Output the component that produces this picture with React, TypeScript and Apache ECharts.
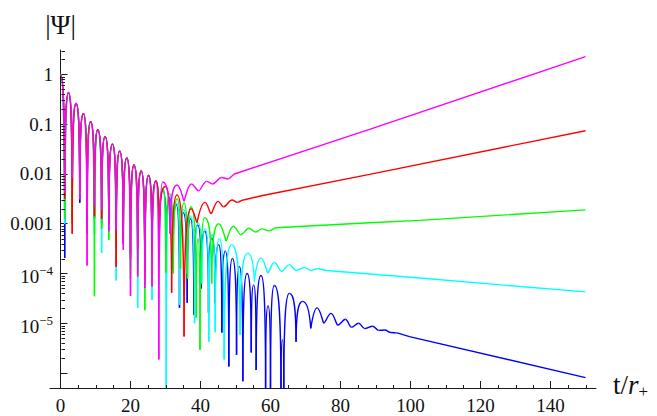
import React, { useEffect, useRef } from "react";
import * as echarts from "echarts";

// ---------- axis ranges & ticks ----------
const xMin = -3;
const xMax = 153;
const yMin = 5e-7;
const yMax = 3.1;
const xMajorTicks = [0, 20, 40, 60, 80, 100, 120, 140];
const xMinorTicks = [5, 10, 15, 25, 30, 35, 45, 50, 55, 65, 70, 75, 85, 90, 95, 105, 110, 115, 125, 130, 135, 145, 150];
const yMajorTicks = [1e-6, 1e-5, 1e-4, 1e-3, 1e-2, 1e-1, 1];
const yLabelValues = [1e-5, 1e-4, 1e-3, 1e-2, 1e-1, 1];
const yLabelTexts = ["{b|10}{s|\u22125}", "{b|10}{s|\u22124}", "0.001", "0.01", "0.1", "1"];
const yMinorTicks = [
  2e-6, 3e-6, 4e-6, 5e-6, 6e-6, 7e-6, 8e-6, 9e-6,
  2e-5, 3e-5, 4e-5, 5e-5, 6e-5, 7e-5, 8e-5, 9e-5,
  2e-4, 3e-4, 4e-4, 5e-4, 6e-4, 7e-4, 8e-4, 9e-4,
  0.002, 0.003, 0.004, 0.005, 0.006, 0.007, 0.008, 0.009,
  0.02, 0.03, 0.04, 0.05, 0.06, 0.07, 0.08, 0.09,
  0.2, 0.3, 0.4, 0.5, 0.6, 0.7, 0.8, 0.9,
  2, 3,
];

// ---------- data: common early ringing ----------
const startPoint = [0, 1];
const earlyPeakT = [2.3, 4.45, 6.55, 8.6, 10.65, 12.75, 14.85, 16.9, 18.95, 21.0, 23.05, 25.15, 27.25];
const earlyPeakV = [0.43, 0.26, 0.162, 0.112, 0.0776, 0.0562, 0.0398, 0.0288, 0.0209, 0.0151, 0.0115, 0.0093, 0.0072];
const earlyDipT = [1.2, 3.35, 5.5, 7.6, 9.7, 11.75, 13.8, 15.9, 17.95, 20.0, 22.05, 24.1, 26.15];

const blueEarlyDips = [2.04e-4, 1.26e-3, 2.63e-3, 2.0e-3, 1.26e-3, 1.0e-3, 1.0e-3, 5.0e-4, 3.98e-4, 2.51e-4, 1.58e-4, 1.2e-4, 1.58e-4];
const cyanEarlyDips = [1.0e-3, 1.58e-3, 3.98e-3, 1.26e-3, 6.3e-4, 2.57e-4, 7.9e-4, 7.2e-5, 5.0e-4, 1.26e-4, 2.04e-5, 6.3e-5, 2.95e-5];
const greenEarlyDips = [1.26e-3, 1.0e-3, 3.98e-3, 1.0e-3, 3.47e-5, 7.9e-4, 4.7e-4, 3.16e-4, 6.3e-4, 7.9e-5, 1.0e-4, 1.82e-5, 1.26e-4];
const redEarlyDips = [3.16e-3, 6.3e-4, 4.47e-3, 6.3e-4, 1.41e-3, 1.26e-3, 1.0e-3, 1.35e-4, 5.0e-4, 2.0e-4, 3.16e-4, 7.9e-5, 2.51e-4];
const magentaEarlyDips = [4.27e-3, 8.5e-3, 3.09e-3, 1.45e-4, 2.24e-3, 1.91e-3, 7.1e-4, 7.6e-4, 3.0e-4, 3.55e-5, 8.7e-5, 5.1e-5, 5.5e-5];

// ---------- data: later extrema (t, |Psi|) ----------
const magentaLate = [[28.1, 1.86e-6], [29.2, 6.9e-3], [31.3, 6.3e-4], [33.3, 6.0e-3], [35.3, 2.82e-3], [37.4, 6.3e-3], [39.5, 4.57e-3], [41.7, 7.1e-3], [43.5, 6.3e-3], [46.0, 8.5e-3], [48.0, 7.9e-3]];
const magentaTail = [[48.0, 7.9e-3], [49.7, 1.0e-2], [88.3, 7.9e-2], [150, 2.29]];

const redLate = [[28.2, 3.98e-4], [29.9, 5.6e-3], [31.75, 4.1e-5], [33.3, 3.8e-3], [35.3, 5.4e-6], [37.3, 2.0e-3], [39.0, 1.05e-3], [41.3, 2.69e-3], [43.0, 1.58e-3], [45.0, 2.82e-3], [46.6, 2.19e-3], [49.0, 3.0e-3], [50.5, 2.69e-3], [52.3, 3.0e-3]];
const redTail = [[52.3, 3.0e-3], [57.8, 3.7e-3], [88.3, 9.8e-3], [150, 7.4e-2]];

const greenLate = [[28.2, 3.16e-4], [29.3, 5.2e-3], [30.1, 1.05e-4], [31.2, 3.98e-3], [32.25, 1.0e-4], [33.3, 3.16e-3], [34.3, 1.26e-4], [35.3, 2.63e-3], [36.3, 7.9e-5], [37.3, 2.19e-3], [38.8, 1.29e-5], [39.3, 5.0e-4], [39.85, 2.95e-6], [41.2, 1.32e-3], [43.2, 6.3e-5], [45.2, 1.0e-3], [47.3, 4.47e-4], [49.4, 8.9e-4], [51.5, 6.0e-4], [53.8, 8.1e-4], [55.8, 6.8e-4], [57.5, 7.9e-4], [59.6, 7.2e-4], [61.6, 8.3e-4]];
const greenTail = [[61.6, 8.3e-4], [88.3, 1.05e-3], [102.6, 1.17e-3], [150, 1.9e-3]];

const cyanLate = [[28.2, 2.0e-4], [29.3, 4.8e-3], [30.2, 5e-7], [31.2, 3.55e-3], [32.2, 1.26e-4], [33.2, 2.63e-3], [34.1, 2.34e-5], [35.2, 1.91e-3], [36.2, 1.0e-4], [37.2, 1.41e-3], [38.3, 1.0e-5], [39.3, 1.05e-3], [40.4, 6.3e-5], [41.4, 7.9e-4], [42.4, 4.27e-6], [43.3, 6.0e-4], [44.2, 6.6e-6], [45.4, 5.0e-4], [46.75, 1.86e-6], [48.9, 3.8e-4], [51.3, 5.9e-6], [53.5, 2.57e-4], [55.4, 6.9e-5], [57.3, 2.04e-4], [59.2, 1.02e-4], [61.1, 1.66e-4], [63.1, 1.1e-4], [65.4, 1.51e-4], [67.3, 1.15e-4], [69.7, 1.32e-4], [71.6, 1.15e-4], [73.5, 1.26e-4]];
const cyanTail = [[73.5, 1.26e-4], [76, 1.15e-4], [102.6, 8.1e-5], [150, 4.27e-5]];

const blueLate = [[28.2, 3.16e-4], [29.25, 4.68e-3], [30.2, 2.51e-4], [31.15, 3.3e-3], [32.1, 1.26e-4], [33.1, 2.4e-3], [34.0, 2.04e-5], [35.1, 1.66e-3], [36.2, 2.57e-5], [37.15, 1.26e-3], [38.1, 1.48e-5], [39.2, 9.5e-4], [40.2, 5.0e-5], [41.2, 7.1e-4], [42.3, 1.62e-5], [43.2, 5.1e-4], [44.2, 2.51e-5], [45.2, 3.8e-4], [46.1, 6.5e-6], [47.1, 2.82e-4], [48.1, 1.35e-6], [49.1, 2.0e-4], [50.3, 2.34e-6], [51.1, 1.38e-4], [52.1, 6.8e-7], [53.3, 1.0e-4], [54.5, 2.57e-6], [55.2, 5.9e-5], [55.9, 1.15e-6], [57.3, 9.1e-5], [58.6, 5e-7], [59.3, 2.24e-5], [60.0, 5e-7], [61.1, 5.75e-5], [63.0, 5e-7], [63.4, 4.68e-6], [63.8, 5e-7], [65.4, 3.98e-5], [67.3, 4.27e-6], [69.2, 2.75e-5], [71.5, 7.9e-6], [73.3, 2.04e-5], [75.2, 1.0e-5], [77.3, 1.58e-5], [79.2, 9.1e-6], [81.4, 1.2e-5], [83.1, 8.3e-6], [85.2, 1.0e-5], [86.9, 7.8e-6], [89.2, 8.7e-6], [90.9, 7.2e-6], [92.7, 7.3e-6], [94.4, 6.5e-6], [96.2, 6.4e-6]];
const blueTail = [[96.2, 6.4e-6], [99.7, 5.4e-6], [150, 8.1e-7]];

// ---------- styling ----------
const FONT = "Liberation Serif, serif";
const AXIS_COLOR = "#1a1a1a";
const LW = 1.4;

function buildExtrema(dips: number[], late: number[][]) {
  const pts: number[][] = [startPoint];
  for (let i = 0; i < earlyDipT.length; i++) {
    pts.push([earlyDipT[i], dips[i]]);
    pts.push([earlyPeakT[i], earlyPeakV[i]]);
  }
  return pts.concat(late);
}

function archRenderer(color: string) {
  return (_params: any, api: any) => {
    const a = api.coord([api.value(0), api.value(1)]);
    const b = api.coord([api.value(2), api.value(3)]);
    const aDip = a[1] > b[1];
    const dip = aDip ? a : b;
    const peak = aDip ? b : a;
    const drop = dip[1] - peak[1];
    const dx = peak[0] - dip[0];
    const f = Math.max(0, Math.min(1, (drop - 6) / 30));
    const cDip = [dip[0] + dx * (0.36 - 0.33 * f), dip[1] - drop * 0.75 * f];
    const cPeak = [peak[0] - dx * (0.36 + 0.29 * f), peak[1]];
    const c1 = aDip ? cDip : cPeak;
    const c2 = aDip ? cPeak : cDip;
    return {
      type: "bezierCurve",
      shape: { x1: a[0], y1: a[1], x2: b[0], y2: b[1], cpx1: c1[0], cpy1: c1[1], cpx2: c2[0], cpy2: c2[1] },
      style: { stroke: color, lineWidth: LW, fill: "none" },
    };
  };
}

const curves = [
  { name: "blue", color: "#0000ff", early: blueEarlyDips, late: blueLate, tail: blueTail },
  { name: "cyan", color: "#00ffff", early: cyanEarlyDips, late: cyanLate, tail: cyanTail },
  { name: "green", color: "#00ff00", early: greenEarlyDips, late: greenLate, tail: greenTail },
  { name: "red", color: "#ff0000", early: redEarlyDips, late: redLate, tail: redTail },
  { name: "magenta", color: "#ff00ff", early: magentaEarlyDips, late: magentaLate, tail: magentaTail },
];

function buildOption() {
  const series: any[] = [];
  curves.forEach((c) => {
    const pts = buildExtrema(c.early, c.late);
    const segs = pts.slice(1).map((p, i) => [pts[i][0], pts[i][1], p[0], p[1]]);
    series.push({
      type: "custom",
      name: c.name,
      coordinateSystem: "cartesian2d",
      silent: true,
      data: segs,
      encode: { x: [0, 2], y: [1, 3] },
      renderItem: archRenderer(c.color),
    });
    series.push({
      type: "line",
      name: c.name + "-tail",
      data: c.tail,
      showSymbol: false,
      symbol: "none",
      silent: true,
      lineStyle: { color: c.color, width: LW },
      itemStyle: { color: c.color },
    });
  });
  // minor ticks
  series.push({
    type: "custom",
    coordinateSystem: "cartesian2d",
    silent: true,
    data: yMinorTicks.map((v) => [0, v]),
    encode: { x: 0, y: 1 },
    renderItem: (_p: any, api: any) => {
      const c = api.coord([0, api.value(1)]);
      const y = Math.round(c[1]) + 0.5;
      const x = Math.round(c[0]) + 0.5;
      return { type: "line", shape: { x1: x, y1: y, x2: x + 3.5, y2: y }, style: { stroke: AXIS_COLOR, lineWidth: 1 } };
    },
  });
  series.push({
    type: "custom",
    coordinateSystem: "cartesian2d",
    silent: true,
    data: xMinorTicks.map((v) => [v, yMin]),
    encode: { x: 0, y: 1 },
    renderItem: (_p: any, api: any) => {
      const c = api.coord([api.value(0), yMin]);
      const x = Math.round(c[0]) + 0.5;
      const y = Math.round(c[1]) + 0.5;
      return { type: "line", shape: { x1: x, y1: y, x2: x, y2: y - 3.5 }, style: { stroke: AXIS_COLOR, lineWidth: 1 } };
    },
  });

  return {
    animation: false,
    backgroundColor: "#ffffff",
    textStyle: { fontFamily: FONT },
    grid: { left: 50, right: 61, top: 50, bottom: 28, containLabel: false, outerBoundsMode: "none" },
    xAxis: {
      type: "value",
      min: xMin,
      max: xMax,
      axisLine: { show: true, onZero: false, lineStyle: { color: AXIS_COLOR, width: 1 } },
      axisTick: { show: true, inside: true, length: 7, customValues: xMajorTicks, lineStyle: { color: AXIS_COLOR } },
      axisLabel: { customValues: xMajorTicks, margin: 8, fontFamily: FONT, fontSize: 19, color: "#111" },
      splitLine: { show: false },
      name: "{n|t/}{i|r}{s|+}",
      nameLocation: "end",
      nameGap: 17,
      nameTextStyle: {
        padding: [0, 0, 6, 0],
        rich: {
          n: { fontFamily: FONT, fontSize: 27, color: "#111" },
          i: { fontFamily: FONT, fontSize: 27, fontStyle: "italic", color: "#111" },
          s: { fontFamily: FONT, fontSize: 17, color: "#111", padding: [13, 0, 0, 0] },
        },
      },
    },
    yAxis: {
      type: "log",
      logBase: 10,
      min: yMin,
      max: yMax,
      axisLine: { show: true, onZero: true, lineStyle: { color: AXIS_COLOR, width: 1 } },
      axisTick: { show: true, inside: true, length: 7, customValues: yMajorTicks, lineStyle: { color: AXIS_COLOR } },
      axisLabel: {
        customValues: yLabelValues,
        margin: -3,
        fontFamily: FONT,
        fontSize: 19,
        color: "#111",
        formatter: (v: number) => {
          const e = Math.round(Math.log10(v));
          const i = yLabelValues.findIndex((x) => Math.round(Math.log10(x)) === e);
          return i >= 0 ? yLabelTexts[i] : "";
        },
        rich: {
          b: { fontFamily: FONT, fontSize: 19, color: "#111", padding: [6, 0, 0, 0] },
          s: { fontFamily: FONT, fontSize: 13, color: "#111", padding: [0, 0, 6, 0] },
        },
      },
      splitLine: { show: false },
      minorTick: { show: false },
      name: "|\u03A8|",
      nameLocation: "end",
      nameGap: 12,
      nameTextStyle: { fontFamily: FONT, fontSize: 27, color: "#111" },
    },
    series,
  };
}

export default function App() {
  const ref = useRef<HTMLDivElement>(null);
  useEffect(() => {
    if (!ref.current) return;
    const chart = echarts.init(ref.current, null, { renderer: "svg" });
    chart.setOption(buildOption() as any);
    return () => chart.dispose();
  }, []);
  return <div ref={ref} style={{ position: "fixed", left: 0, top: 0, width: 657, height: 416, background: "#fff" }} />;
}
